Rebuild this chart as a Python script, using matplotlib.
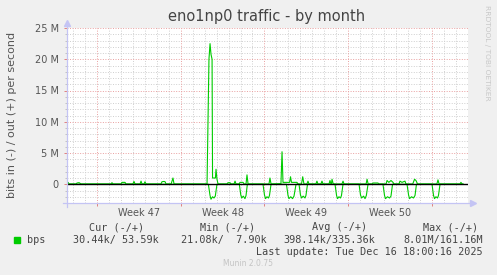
import matplotlib
matplotlib.use("Agg")
import matplotlib.pyplot as plt
from matplotlib.patches import Rectangle
from matplotlib.transforms import blended_transform_factory

# --- Dados (dias a partir de seg 17/11 00:00, valores em Mbit/s) ---
out_days = [-2.51, -2.42, -2.34, -1.75, -1.67, -1.5, -1.34, 1.17, 1.25, 1.34,
            2.0, 2.09, 2.34, 2.42, 3.0, 3.09, 3.18, 3.6, 3.68, 3.76,
            3.93, 4.01, 4.1, 5.35, 5.43, 5.6, 5.69, 5.77, 6.2, 6.27, 6.35, 6.44,
            9.2, 9.36, 9.45, 9.53, 9.62, 9.66, 9.9, 9.95, 10.03, 10.12,
            10.87, 10.95, 11.12, 11.2, 11.46, 11.54, 11.62,
            11.88, 11.96, 12.21, 12.29, 12.46, 12.54, 12.63,
            14.38, 14.46, 14.55, 15.38, 15.47, 15.55, 16.1, 16.18, 16.26, 16.72, 16.8,
            17.1, 17.2, 17.3, 17.55, 17.64, 17.72, 18.3, 18.39, 18.47,
            18.72, 18.81, 18.9, 19.4, 19.48, 19.56, 19.6, 19.65, 19.75,
            20.48, 20.57, 20.65, 22.5, 22.58, 22.67, 23.0, 23.08, 23.49, 23.57,
            24.17, 24.25, 24.4, 24.58, 24.75, 24.83, 25.25, 25.33, 25.5, 25.75, 25.83,
            26.4, 26.55, 26.67, 26.8, 28.42, 28.51, 28.6, 30.35, 30.43, 30.52, 30.6]
out_mbps = [0.05, 0.3, 0.05, 0.05, 0.2, 0.25, 0.05, 0.05, 0.25, 0.05,
            0.05, 0.3, 0.3, 0.05, 0.05, 0.45, 0.05, 0.05, 0.5, 0.05,
            0.05, 0.4, 0.05, 0.05, 0.4, 0.45, 0.4, 0.05, 0.05, 0.5, 1.0, 0.05,
            0.05, 20.0, 22.5, 20.8, 20.0, 1.0, 1.0, 2.4, 0.8, 0.05,
            0.05, 0.25, 0.25, 0.05, 0.05, 0.5, 0.05,
            0.05, 0.3, 0.3, 0.05, 0.05, 1.5, 0.05,
            0.05, 1.0, 0.05, 0.1, 5.2, 0.3, 0.3, 1.2, 0.3, 0.3, 0.05,
            0.05, 1.2, 0.05, 0.05, 0.5, 0.05, 0.05, 0.5, 0.05,
            0.05, 0.5, 0.05, 0.05, 0.6, 0.05, 0.05, 0.8, 0.05,
            0.05, 0.5, 0.05, 0.05, 0.8, 0.05, 0.05, 0.2, 0.2, 0.05,
            0.05, 0.6, 0.3, 0.6, 0.3, 0.05, 0.05, 0.5, 0.3, 0.5, 0.05,
            0.05, 0.8, 0.6, 0.05, 0.05, 0.7, 0.05, 0.05, 0.3, 0.05, 0.05]

in_days = [-2.51,
           9.31, 9.45, 9.53, 9.66, 9.78, 9.89, 10.03,
           11.90, 12.02, 12.10, 12.23, 12.37, 12.46, 12.57,
           13.88, 14.0, 14.09, 14.21, 14.34, 14.42, 14.55,
           15.84, 15.97, 16.05, 16.2, 16.35, 16.47, 16.64,
           16.89, 17.01, 17.1, 17.24, 17.39, 17.47, 17.60,
           19.90, 20.03, 20.11, 20.23, 20.36, 20.44, 20.57,
           21.91, 22.03, 22.12, 22.29, 22.41, 22.52, 22.66,
           23.91, 24.04, 24.12, 24.29, 24.46, 24.58, 24.71,
           25.92, 26.05, 26.13, 26.30, 26.46, 26.59, 26.71,
           28.01, 28.14, 28.22, 28.34, 28.47, 28.55, 28.68,
           30.6]
in_mbps = [0.0,
           0.0, -1.8, -2.4, -2.0, -2.2, -1.9, 0.0,
           0.0, -1.7, -2.2, -1.9, -2.3, -1.8, 0.0,
           0.0, -1.7, -2.3, -2.0, -2.2, -1.8, 0.0,
           0.0, -1.8, -2.3, -2.0, -2.3, -1.9, 0.0,
           0.0, -1.7, -2.2, -1.9, -2.2, -1.8, 0.0,
           0.0, -1.8, -2.3, -2.0, -2.2, -1.8, 0.0,
           0.0, -1.7, -2.2, -1.9, -2.3, -1.8, 0.0,
           0.0, -1.8, -2.3, -2.0, -2.2, -1.9, 0.0,
           0.0, -1.7, -2.3, -2.0, -2.2, -1.8, 0.0,
           0.0, -1.8, -2.3, -2.0, -2.2, -1.8, 0.0,
           0.0]

week_starts = [0, 7, 14, 21, 28]
week_labels = ["Week 47", "Week 48", "Week 49", "Week 50"]
y_major = [0, 5, 10, 15, 20, 25]
y_labels = ["0", "5 M", "10 M", "15 M", "20 M", "25 M"]

legend_header = ["Cur (-/+)", "Min (-/+)", "Avg (-/+)", "Max (-/+)"]
legend_values = ["30.44k/ 53.59k", "21.08k/  7.90k", "398.14k/335.36k", "8.01M/161.16M"]

# --- Figura ---
W, H = 497, 275
fig = plt.figure(figsize=(W / 100, H / 100), dpi=100, facecolor="#F0F0F0")

def fx(x):
    return x / W

def fy(y):
    return 1 - y / H

ax = fig.add_axes([fx(67), fy(203), fx(468) - fx(67), fy(28) - fy(203)])
ax.set_facecolor("white")
ax.set_xlim(-2.51, 31.02)
ax.set_ylim(-3.0, 25.0)

GREEN = "#00CC00"
ax.plot(in_days, in_mbps, color=GREEN, linewidth=0.8, zorder=3)
ax.plot(out_days, out_mbps, color=GREEN, linewidth=0.8, zorder=3)
ax.axhline(0, color="black", linewidth=1.0, zorder=4)

# grade
minor_x = [d for d in range(-2, 32) if d not in week_starts]
minor_y = [v for v in range(-3, 26) if v % 5 != 0]
dots = (0, (1, 1.6))
for d in minor_x:
    ax.axvline(d, color="#CFCFCF", linewidth=0.7, linestyle=dots, zorder=1)
for v in minor_y:
    ax.axhline(v, color="#CFCFCF", linewidth=0.7, linestyle=dots, zorder=1)
for d in week_starts:
    ax.axvline(d, color="#E9A0A0", linewidth=0.7, linestyle=dots, zorder=2)
for v in y_major[1:]:
    ax.axhline(v, color="#E9A0A0", linewidth=0.7, linestyle=dots, zorder=2)

for s in ax.spines.values():
    s.set_visible(False)

ax.set_xticks(week_starts)
ax.set_xticklabels([])
ax.set_yticks(y_major)
ax.set_yticklabels(y_labels)
ax.set_yticks(minor_y, minor=True)
ax.tick_params(axis="x", direction="out", length=2.5, width=0.7, color="#E08080")
ax.tick_params(axis="y", which="major", direction="out", length=2, width=0.7,
               color="#E08080", labelsize=7, labelcolor="#555555", pad=4)
ax.tick_params(axis="y", which="minor", direction="out", length=1.5, width=0.6,
               color="#BBBBBB")

# eixos com setas
AXC = "#C4C4F4"
ax.plot([0, 0], [-0.02, 1.02], transform=ax.transAxes, color=AXC,
        linewidth=0.9, clip_on=False, zorder=5)
ax.plot([-0.01, 1.01], [0, 0], transform=ax.transAxes, color=AXC,
        linewidth=0.9, clip_on=False, zorder=5)
ax.plot([0], [1.03], transform=ax.transAxes, marker="^", markersize=4,
        color=AXC, clip_on=False)
ax.plot([1.012], [0], transform=ax.transAxes, marker=">", markersize=4,
        color=AXC, clip_on=False)

# rotulos das semanas
wk_trans = blended_transform_factory(ax.transData, fig.transFigure)
for i, lab in enumerate(week_labels):
    ax.text(week_starts[i] + 3.5, fy(213), lab, ha="center", va="center",
            fontsize=7, color="#555555", transform=wk_trans)

fig.text(fx(12), fy(115), "bits in (-) / out (+) per second", rotation=90,
         ha="center", va="center", fontsize=8, color="#555555")
fig.text(fx(267), fy(17), "eno1np0 traffic - by month", ha="center", va="center",
         fontsize=10.5, color="#444444")
fig.text(fx(487), fy(5), "RRDTOOL / TOBI OETIKER", rotation=270, ha="center",
         va="top", fontsize=5.4, color="#C8C8C8")

# --- Legenda / estatisticas ---
mono = "DejaVu Sans Mono"
header_x = [89.3, 200.3, 311.7, 422.7]
values_x = [72.7, 180.7, 283.0, 403.3]
for x, s in zip(header_x, legend_header):
    fig.text(fx(x), fy(227.5), s, family=mono, fontsize=7.3, color="#444444",
             ha="left", va="center")
fig.patches.append(Rectangle((fx(13.7), fy(242.7)), fx(6), 6 / H, color=GREEN,
                             transform=fig.transFigure, figure=fig))
fig.text(fx(26.7), fy(240), "bps", family=mono, fontsize=7.3, color="#444444",
         ha="left", va="center")
for x, s in zip(values_x, legend_values):
    fig.text(fx(x), fy(240), s, family=mono, fontsize=7.3, color="#444444",
             ha="left", va="center")
fig.text(fx(483), fy(251.7), "Last update: Tue Dec 16 18:00:16 2025", family=mono,
         fontsize=7.3, color="#444444", ha="right", va="center")
fig.text(fx(248), fy(264), "Munin 2.0.75", fontsize=5.5, color="#C4C4C4",
         ha="center", va="center")

fig.savefig("out.png", dpi=100, facecolor=fig.get_facecolor())
